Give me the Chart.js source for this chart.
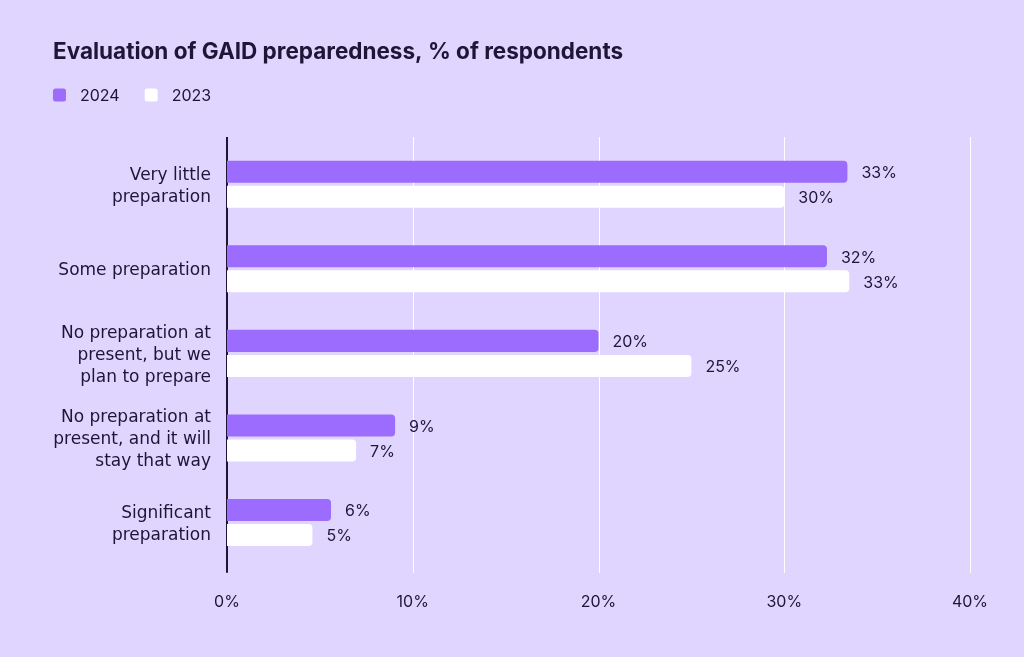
<!DOCTYPE html>
<html>
<head>
<meta charset="utf-8">
<script src="https://cdn.jsdelivr.net/npm/chart.js@4/dist/chart.umd.min.js"></script>
<style>
html,body{margin:0;padding:0;background:#e0d5fe;}
#wrap{width:1024px;height:657px;position:relative;}
</style>
</head>
<body>
<div id="wrap"><canvas id="c" width="1024" height="657"></canvas></div>
<script>
const categories = [
  ["Very little", "preparation"],
  ["Some preparation"],
  ["No preparation at", "present, but we", "plan to prepare"],
  ["No preparation at", "present, and it will", "stay that way"],
  ["Significant", "preparation"]
];
const seriesNames = ["2024", "2023"];
const values2024 = [33.4, 32.3, 20.0, 9.05, 5.6];
const values2023 = [30.0, 33.5, 25.0, 6.95, 4.6];
const labels2024 = ["33%", "32%", "20%", "9%", "6%"];
const labels2023 = ["30%", "33%", "25%", "7%", "5%"];
const xTicks = [0, 10, 20, 30, 40];

const TEXT = "#1e1537";
const PURPLE = "#9b6cfd";
const FONT = "Inter, 'Noto Sans', sans-serif";
const LABEL_FONT = "'DejaVu Sans', sans-serif";

const gridPlugin = {
  id: 'gridExt',
  beforeDatasetsDraw(chart) {
    const {ctx, chartArea, scales} = chart;
    const x = scales.x;
    ctx.save();
    xTicks.forEach(v => {
      const px = Math.round(x.getPixelForValue(v));
      ctx.beginPath();
      ctx.strokeStyle = v === 0 ? TEXT : "#ffffff";
      ctx.lineWidth = v === 0 ? 2 : 1;
      const xx = v === 0 ? px : px + 0.5;
      ctx.moveTo(xx, chartArea.top - 5);
      ctx.lineTo(xx, chartArea.bottom + 8);
      ctx.stroke();
    });
    ctx.restore();
  }
};

const valueLabels = {
  id: 'valueLabels',
  afterDatasetsDraw(chart) {
    const {ctx} = chart;
    const texts = [labels2024, labels2023];
    ctx.save();
    ctx.font = "400 16px " + FONT;
    ctx.fillStyle = TEXT;
    ctx.textAlign = "left";
    ctx.textBaseline = "middle";
    chart.data.datasets.forEach((ds, di) => {
      chart.getDatasetMeta(di).data.forEach((bar, i) => {
        ctx.fillText(texts[di][i], bar.x + 14, bar.y + 1.5);
      });
    });
    ctx.restore();
  }
};

const customLegend = {
  id: 'customLegend',
  afterDraw(chart) {
    const {ctx} = chart;
    ctx.save();
    ctx.font = "400 16px " + FONT;
    ctx.textBaseline = "middle";
    ctx.textAlign = "left";
    let x = 53;
    const y = 95;
    chart.data.datasets.forEach(ds => {
      ctx.fillStyle = ds.backgroundColor;
      ctx.beginPath();
      ctx.roundRect(x, y - 6.5, 13, 13, 2.5);
      ctx.fill();
      ctx.fillStyle = TEXT;
      ctx.fillText(ds.label, x + 27, y + 1);
      x += 27 + ctx.measureText(ds.label).width + 25;
    });
    ctx.restore();
  }
};

new Chart(document.getElementById('c'), {
  type: 'bar',
  data: {
    labels: categories,
    datasets: [
      {label: seriesNames[0], data: values2024, backgroundColor: PURPLE, borderRadius: {topRight: 4, bottomRight: 4}, borderSkipped: false},
      {label: seriesNames[1], data: values2023, backgroundColor: "#ffffff", borderRadius: {topRight: 4, bottomRight: 4}, borderSkipped: false}
    ]
  },
  options: {
    indexAxis: 'y',
    responsive: false,
    animation: false,
    devicePixelRatio: 1,
    categoryPercentage: 0.592,
    barPercentage: 0.88,
    layout: {padding: {left: 53, right: 54, top: 39, bottom: 17}},
    scales: {
      x: {
        min: 0, max: 40,
        grid: {display: false, drawTicks: false},
        border: {display: false},
        ticks: {
          stepSize: 10,
          padding: 28,
          color: TEXT,
          font: {family: FONT, size: 16},
          callback: v => v + "%"
        }
      },
      y: {
        grid: {display: false, drawTicks: false},
        border: {display: false},
        afterFit(scale) { scale.width = 174; },
        ticks: {
          padding: 16,
          labelOffset: 2,
          color: TEXT,
          font: {family: LABEL_FONT, size: 17, lineHeight: 1.3}
        }
      }
    },
    plugins: {
      tooltip: {enabled: false},
      title: {
        display: true,
        text: "Evaluation of GAID preparedness, % of respondents",
        align: 'start',
        color: TEXT,
        font: {family: FONT, size: 22.5, weight: '700'},
        padding: {top: 0, bottom: 76}
      },
      legend: {display: false}
    }
  },
  plugins: [gridPlugin, valueLabels, customLegend]
});
</script>
</body>
</html>
